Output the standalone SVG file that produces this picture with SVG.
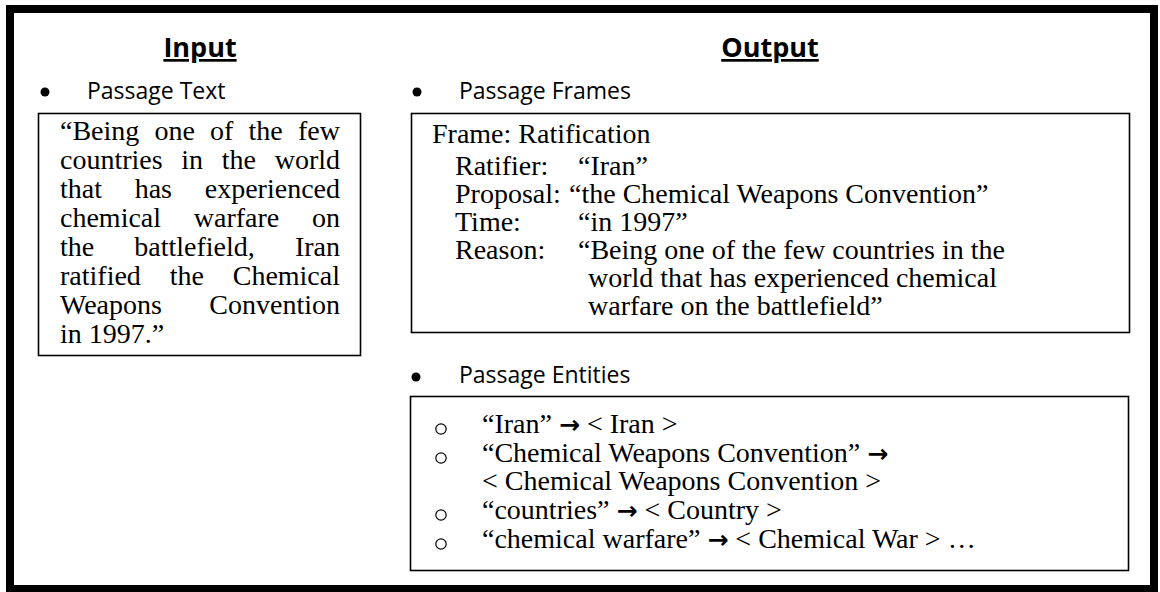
<svg xmlns="http://www.w3.org/2000/svg" width="1160" height="592" viewBox="0 0 1160 592">
<style>
.serif{font-family:"Liberation Serif","Times New Roman",serif;font-size:28px;fill:#000}
.sans{font-family:"Open Sans","Liberation Sans",sans-serif;font-size:23px;fill:#000}
.head{font-family:"Open Sans","Liberation Sans",sans-serif;font-size:27px;font-weight:bold;fill:#000;text-anchor:middle;text-decoration:underline}
.box{fill:#fff;stroke:#000;stroke-width:1.6}
.end{text-anchor:end}
.arr{font-family:"DejaVu Sans",sans-serif;font-size:25px;font-weight:bold}
.dot{fill:#000}
.ob{fill:none;stroke:#000;stroke-width:1.2}
</style>
<rect width="1160" height="592" fill="#fff"/>
<rect id="frame" x="10" y="9" width="1144" height="580" fill="none" stroke="#000" stroke-width="8"/>

<g id="input">
<text class="head" x="200" y="57">Input</text>
<circle class="dot" cx="45" cy="92" r="4.5"/>
<text class="sans" x="87" y="99">Passage Text</text>
<rect class="box" x="38.5" y="113.5" width="322" height="242"/>
<text class="serif" y="139.5"><tspan x="60">“Being</tspan><tspan x="154.5">one</tspan><tspan x="210.1">of</tspan><tspan x="248.6">the</tspan></text>
<text class="serif end" x="340" y="139.5">few</text>
<text class="serif" y="168.6"><tspan x="60">countries</tspan><tspan x="181.3">in</tspan><tspan x="221.8">the</tspan></text>
<text class="serif end" x="340" y="168.6">world</text>
<text class="serif" y="197.7"><tspan x="60">that</tspan><tspan x="134.7">has</tspan></text>
<text class="serif end" x="340" y="197.7">experienced</text>
<text class="serif" y="226.8"><tspan x="60">chemical</tspan><tspan x="193.8">warfare</tspan></text>
<text class="serif end" x="340" y="226.8">on</text>
<text class="serif" y="255.9"><tspan x="60">the</tspan><tspan x="134.3">battlefield,</tspan></text>
<text class="serif end" x="340" y="255.9">Iran</text>
<text class="serif" y="285"><tspan x="60">ratified</tspan><tspan x="169.7">the</tspan></text>
<text class="serif end" x="340" y="285">Chemical</text>
<text class="serif" x="60" y="314.1">Weapons</text>
<text class="serif end" x="340" y="314.1">Convention</text>
<text class="serif" x="60" y="343.2">in 1997.”</text>
</g>

<g id="output-heading">
<text class="head" x="770" y="57">Output</text>
</g>

<g id="frames">
<circle class="dot" cx="417" cy="92" r="4.5"/>
<text class="sans" x="459" y="99">Passage Frames</text>
<rect class="box" x="411.5" y="113.5" width="718" height="219"/>
<text class="serif" x="432" y="143">Frame: Ratification</text>
<text class="serif" y="175"><tspan x="455">Ratifier:</tspan><tspan x="578">“Iran”</tspan></text>
<text class="serif" y="202.5"><tspan x="455">Proposal:</tspan><tspan x="569">“the Chemical Weapons Convention”</tspan></text>
<text class="serif" y="231"><tspan x="455">Time:</tspan><tspan x="578">“in 1997”</tspan></text>
<text class="serif" y="259"><tspan x="455">Reason:</tspan><tspan x="578">“Being one of the few countries in the</tspan></text>
<text class="serif" x="588" y="287">world that has experienced chemical</text>
<text class="serif" x="588" y="314.5">warfare on the battlefield”</text>
</g>

<g id="entities">
<circle class="dot" cx="416" cy="377" r="4.5"/>
<text class="sans" x="459" y="383">Passage Entities</text>
<rect class="box" x="410.5" y="396.5" width="718" height="174"/>
<circle class="ob" cx="441" cy="429" r="5.2"/>
<circle class="ob" cx="441" cy="458" r="5.2"/>
<circle class="ob" cx="441" cy="515" r="5.2"/>
<circle class="ob" cx="441" cy="544" r="5.2"/>
<text class="serif" x="482" y="433">“Iran” <tspan class="arr">→</tspan> &lt; Iran &gt;</text>
<text class="serif" x="482" y="462">“Chemical Weapons Convention” <tspan class="arr">→</tspan></text>
<text class="serif" x="482" y="490">&lt; Chemical Weapons Convention &gt;</text>
<text class="serif" x="482" y="519">“countries” <tspan class="arr">→</tspan> &lt; Country &gt;</text>
<text class="serif" x="482" y="548">“chemical warfare” <tspan class="arr">→</tspan> &lt; Chemical War &gt;  …</text>
</g>
</svg>
